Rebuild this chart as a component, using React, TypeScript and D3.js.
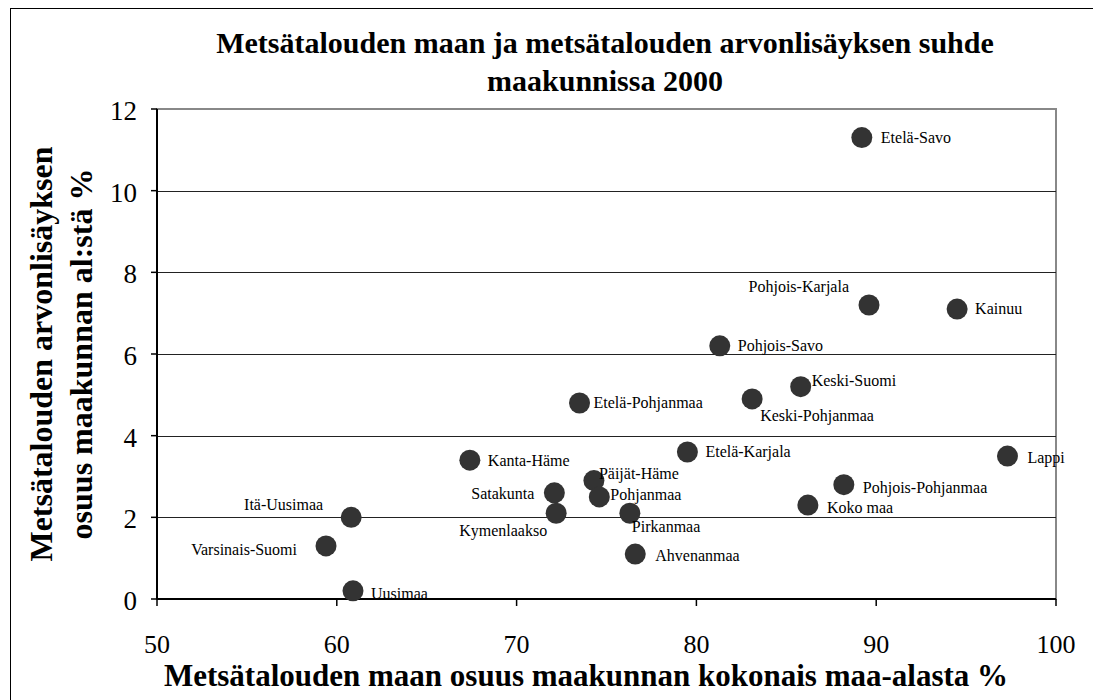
import * as d3 from "d3";

const regions = [
  "Etelä-Savo", "Pohjois-Karjala", "Kainuu", "Pohjois-Savo", "Keski-Suomi",
  "Keski-Pohjanmaa", "Etelä-Pohjanmaa", "Kanta-Häme", "Etelä-Karjala", "Päijät-Häme",
  "Pohjanmaa", "Satakunta", "Kymenlaakso", "Pirkanmaa", "Ahvenanmaa",
  "Lappi", "Pohjois-Pohjanmaa", "Koko maa", "Itä-Uusimaa", "Varsinais-Suomi", "Uusimaa",
];
const landShare = [
  89.2, 89.6, 94.5, 81.3, 85.8,
  83.1, 73.5, 67.4, 79.5, 74.3,
  74.6, 72.1, 72.2, 76.3, 76.6,
  97.3, 88.2, 86.2, 60.8, 59.4, 60.9,
];
const valueShare = [
  11.3, 7.2, 7.1, 6.2, 5.2,
  4.9, 4.8, 3.4, 3.6, 2.9,
  2.5, 2.6, 2.1, 2.1, 1.1,
  3.5, 2.8, 2.3, 2.0, 1.3, 0.2,
];
const xTicks = [50, 60, 70, 80, 90, 100];
const yTicks = [0, 2, 4, 6, 8, 10, 12];

// label placement relative to the dot: [dx, dy, anchor]
const labelPos: Record<string, [number, number, string]> = {
  "Etelä-Savo": [19, 5, "start"],
  "Pohjois-Karjala": [-20, -13, "end"],
  "Kainuu": [18, 5, "start"],
  "Pohjois-Savo": [18, 5, "start"],
  "Keski-Suomi": [11, -1, "start"],
  "Keski-Pohjanmaa": [8, 22, "start"],
  "Etelä-Pohjanmaa": [14, 5, "start"],
  "Kanta-Häme": [18, 6, "start"],
  "Etelä-Karjala": [18, 5, "start"],
  "Päijät-Häme": [5, -2, "start"],
  "Pohjanmaa": [11, 3, "start"],
  "Satakunta": [-20, 6, "end"],
  "Kymenlaakso": [-9, 23, "end"],
  "Pirkanmaa": [2, 19, "start"],
  "Ahvenanmaa": [20, 7, "start"],
  "Lappi": [20, 7, "start"],
  "Pohjois-Pohjanmaa": [19, 8, "start"],
  "Koko maa": [19, 8, "start"],
  "Itä-Uusimaa": [-28, -7, "end"],
  "Varsinais-Suomi": [-29, 9, "end"],
  "Uusimaa": [18, 8, "start"],
};

const W = 1093;
const H = 700;
const left = 157;
const right = 1056;
const top = 109;
const bottom = 599;
const serif = '"Liberation Serif", "Times New Roman", serif';

export default function App() {
  const x = d3.scaleLinear().domain([50, 100]).range([left, right]);
  const y = d3.scaleLinear().domain([0, 12]).range([bottom, top]);
  const cy = (top + bottom) / 2;

  return (
    <svg width={W} height={H} style={{ position: "absolute", left: 0, top: 0, background: "#fff", fontFamily: serif }}>
      <rect x={10.5} y={8.5} width={W + 20} height={H + 20} fill="#fff" stroke="#000" strokeWidth={1} />

      <text x={605} y={53} textAnchor="middle" fontSize={30} fontWeight="bold">
        Metsätalouden maan ja metsätalouden arvonlisäyksen suhde
      </text>
      <text x={605} y={91} textAnchor="middle" fontSize={30} fontWeight="bold">
        maakunnissa 2000
      </text>

      {/* plot area border */}
      <rect x={left} y={top} width={right - left} height={bottom - top} fill="#fff" stroke="#888" strokeWidth={2} />

      {yTicks.filter(t => t > 0 && t < 12).map(t => (
        <line key={t} x1={left} x2={right} y1={Math.round(y(t)) + 0.5} y2={Math.round(y(t)) + 0.5} stroke="#222" strokeWidth={1} />
      ))}

      {/* axes */}
      <line x1={left} x2={left} y1={top} y2={bottom} stroke="#000" strokeWidth={2} />
      <line x1={left} x2={right} y1={bottom} y2={bottom} stroke="#000" strokeWidth={2} />
      {yTicks.map(t => (
        <g key={t}>
          <line x1={left - 6} x2={left} y1={y(t)} y2={y(t)} stroke="#000" strokeWidth={1.5} />
          <text x={left - 20} y={y(t) + 11} textAnchor="end" fontSize={27}>{t}</text>
        </g>
      ))}
      {xTicks.map(t => (
        <g key={t}>
          <line x1={x(t)} x2={x(t)} y1={bottom} y2={bottom + 7} stroke="#000" strokeWidth={1.5} />
          <text x={x(t)} y={653} textAnchor="middle" fontSize={26}>{t}</text>
        </g>
      ))}

      {regions.map((r, i) => {
        const px = x(landShare[i]);
        const py = y(valueShare[i]);
        const [dx, dy, anchor] = labelPos[r];
        return (
          <g key={r}>
            <circle cx={px} cy={py} r={10.5} fill="#333" />
            <text x={px + dx} y={py + dy} textAnchor={anchor} fontSize={16}>{r}</text>
          </g>
        );
      })}

      <text x={586} y={686} textAnchor="middle" fontSize={31} fontWeight="bold">
        Metsätalouden maan osuus maakunnan kokonais maa-alasta %
      </text>

      <g transform={`translate(52, ${cy}) rotate(-90)`}>
        <text x={0} y={0} textAnchor="middle" fontSize={32} fontWeight="bold">Metsätalouden arvonlisäyksen</text>
      </g>
      <g transform={`translate(92, ${cy}) rotate(-90)`}>
        <text x={0} y={0} textAnchor="middle" fontSize={32} fontWeight="bold">osuus maakunnan al:stä %</text>
      </g>
    </svg>
  );
}
